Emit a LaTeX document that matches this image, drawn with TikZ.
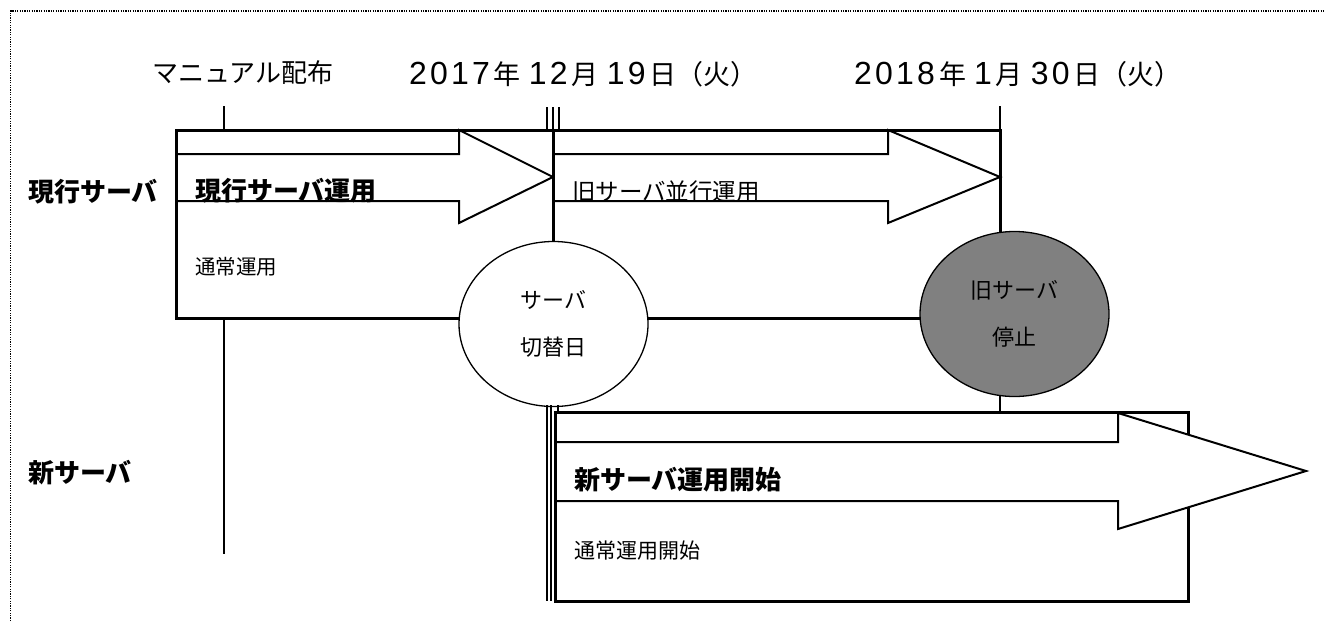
\documentclass[tikz,border=0pt]{standalone}
\usepackage{fontspec}
\setmainfont{Noto Sans CJK JP}
\newfontfamily\digitfont{Liberation Sans}[LetterSpace=10]
\usetikzlibrary{shapes.geometric}
\definecolor{stopgray}{RGB}{128,128,128}
\newcommand{\dgt}[1]{{\fontsize{32}{32}\digitfont #1}}
\begin{document}
\begin{tikzpicture}[x=1pt,y=-1pt,
  thickbox/.style={draw,line width=3pt,fill=white,inner sep=0pt,outer sep=0pt,anchor=north west},
  frame/.style={line width=3pt},
  blockarrow/.style={draw,line width=2pt,fill=white,line join=miter,miter limit=10},
  vline/.style={line width=1.5pt},
  tickline/.style={line width=2pt},
  bubble/.style={ellipse,draw,line width=1.3pt,inner sep=0pt,minimum width=189pt,minimum height=165pt,align=center,font=\fontsize{22}{47}\selectfont},
  lbl/.style={inner sep=0pt,anchor=west},
  bigbold/.style={font=\fontsize{26}{26}\selectfont\bfseries},
  datefont/.style={inner sep=0pt,anchor=base west,font=\fontsize{27}{27}\selectfont},
]
\useasboundingbox (0,0) rectangle (1324,621);
% dotted border (top and left)
\draw[line width=1.4pt,dash pattern=on 1.2pt off 1.2pt] (10.5,621) -- (10.5,11) -- (1324,11);

% timeline markers
\coordinate (mTop) at (224,106);
\coordinate (mBot) at (224,554);
\coordinate (eTop) at (1000,106);
\coordinate (eBot) at (1000,412);
\draw[vline] (mTop) -- (mBot);
\draw[vline] (eTop) -- (eBot);

% current-server boxes
\node[thickbox,minimum width=377pt,minimum height=188pt] (cur) at (176,130) {};
\node[thickbox,minimum width=447pt,minimum height=188pt] (old) at (553,130) {};

% block arrows
\filldraw[blockarrow] (176,154) -- (459,154) -- (459,130) -- (553,177) -- (459,223) -- (459,201) -- (176,201);
\filldraw[blockarrow] (553,154) -- (888,154) -- (888,130) -- (1000,177) -- (888,223) -- (888,201) -- (553,201);
\draw[frame] (cur.north west) rectangle (cur.south east);
\draw[frame] (old.north west) rectangle (old.south east);

% switch-day ticks
\coordinate (t1) at (547,107);
\coordinate (t2) at (553,107);
\coordinate (t3) at (559,107);
\draw[tickline] (t1) -- (t1 |- cur.north);
\draw[tickline] (t2) -- (t2 |- cur.north);
\draw[tickline] (t3) -- (t3 |- cur.north);

% bubbles
\node[bubble,fill=white] (switch) at (553.5,324) {サーバ\\切替日};
\node[bubble,fill=stopgray] (stop) at (1014.5,314) {旧サーバ\\停止};

% new-server box
\node[thickbox,minimum width=633pt,minimum height=189pt] (new) at (555,412) {};
\filldraw[blockarrow] (555,442) -- (1118,442) -- (1118,413) -- (1306,471) -- (1118,529) -- (1118,501) -- (555,501);
\draw[frame] (new.north west) -- (new.south west);

% double lines below switch bubble
\coordinate (b1) at (547,405);
\coordinate (b2) at (551,405);
\coordinate (b3) at (558,405);
\draw[vline] (b1) -- (b1 |- new.south);
\draw[vline] (b2) -- (b2 |- new.south);
\draw[vline] (b3) -- (b3 |- new.north);

% texts
\node[lbl,font=\fontsize{26}{26}\selectfont] (manual) at (152,73) {マニュアル配布};
\node[datefont] (d1) at (409,84) {\dgt{2017}\hspace{4pt}年\hspace{8pt}\dgt{12}\hspace{4pt}月\hspace{8pt}\dgt{19}\hspace{4pt}日（火）};
\node[datefont] (d2) at (854,84) {\dgt{2018}\hspace{4pt}年\hspace{8pt}\dgt{1}\hspace{4pt}月\hspace{8pt}\dgt{30}\hspace{4pt}日（火）};
\node[lbl,bigbold] (lcur) at (28,192) {現行サーバ};
\node[lbl,bigbold] (lnew) at (28,473) {新サーバ};
\node[lbl,bigbold] (tcur) at (195,191) {現行サーバ運用};
\node[lbl,font=\fontsize{23.5}{23.5}\selectfont] (told) at (572,192) {旧サーバ並行運用};
\node[lbl,font=\fontsize{20.5}{20.5}\selectfont] (tnorm) at (195,267) {通常運用};
\node[lbl,bigbold] (tnew) at (574,480) {新サーバ運用開始};
\node[lbl,font=\fontsize{21}{21}\selectfont] (tnewnorm) at (574,551) {通常運用開始};
\end{tikzpicture}
\end{document}
